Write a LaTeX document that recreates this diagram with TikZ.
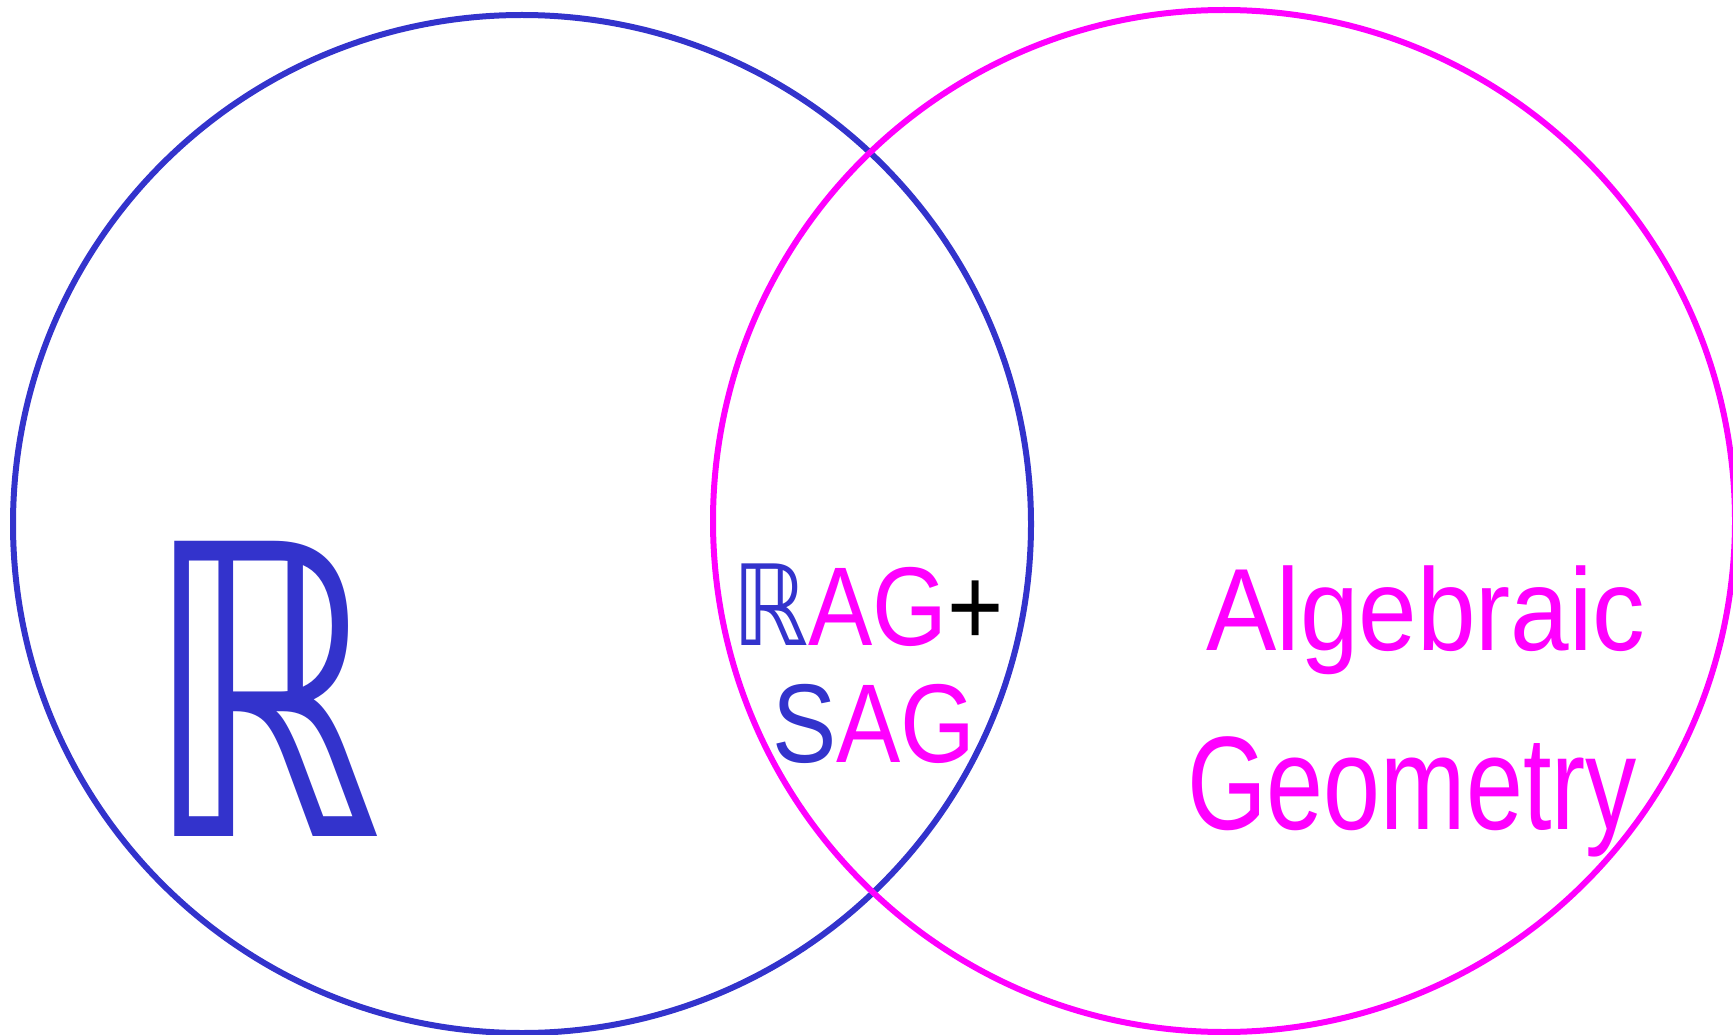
\documentclass[tikz,border=0pt]{standalone}
\usepackage{fontspec}
\setmainfont{Liberation Sans}
\newfontfamily\dvs{DejaVu Sans}
\definecolor{vblue}{RGB}{51,51,204}
\definecolor{vmag}{RGB}{255,0,255}
\begin{document}
\begin{tikzpicture}[x=1pt,y=-1pt,
  ring/.style={line width=6pt},
  lbl/.style={inner sep=0pt,anchor=base}]
\useasboundingbox (0,0) rectangle (1733,1035);
\draw[ring,vblue] (522,524) circle[radius=509];
\draw[ring,vmag] (1224,521) circle[radius=511];
\node[lbl,text=vblue] (bigR) at (264,836)
  {\fontsize{405}{405}\selectfont\scalebox{0.74}[1]{\dvs ℝ}};
\node[lbl] (rag) at (868,645)
  {\fontsize{112}{112}\selectfont\scalebox{0.86}[1]{{\color{vblue}\dvs ℝ}{\color{vmag}AG}{\color{black}+}}};
\node[lbl] (sag) at (874,762)
  {\fontsize{112}{112}\selectfont\scalebox{0.86}[1]{{\color{vblue}S}{\color{vmag}AG}}};
\node[lbl,text=vmag] (alg) at (1426,650)
  {\fontsize{117}{117}\selectfont\scalebox{0.9}[1]{Algebraic}};
\node[lbl,text=vmag] (geo) at (1412,829)
  {\fontsize{133}{133}\selectfont\scalebox{0.77}[1]{Geometry}};
\end{tikzpicture}
\end{document}
